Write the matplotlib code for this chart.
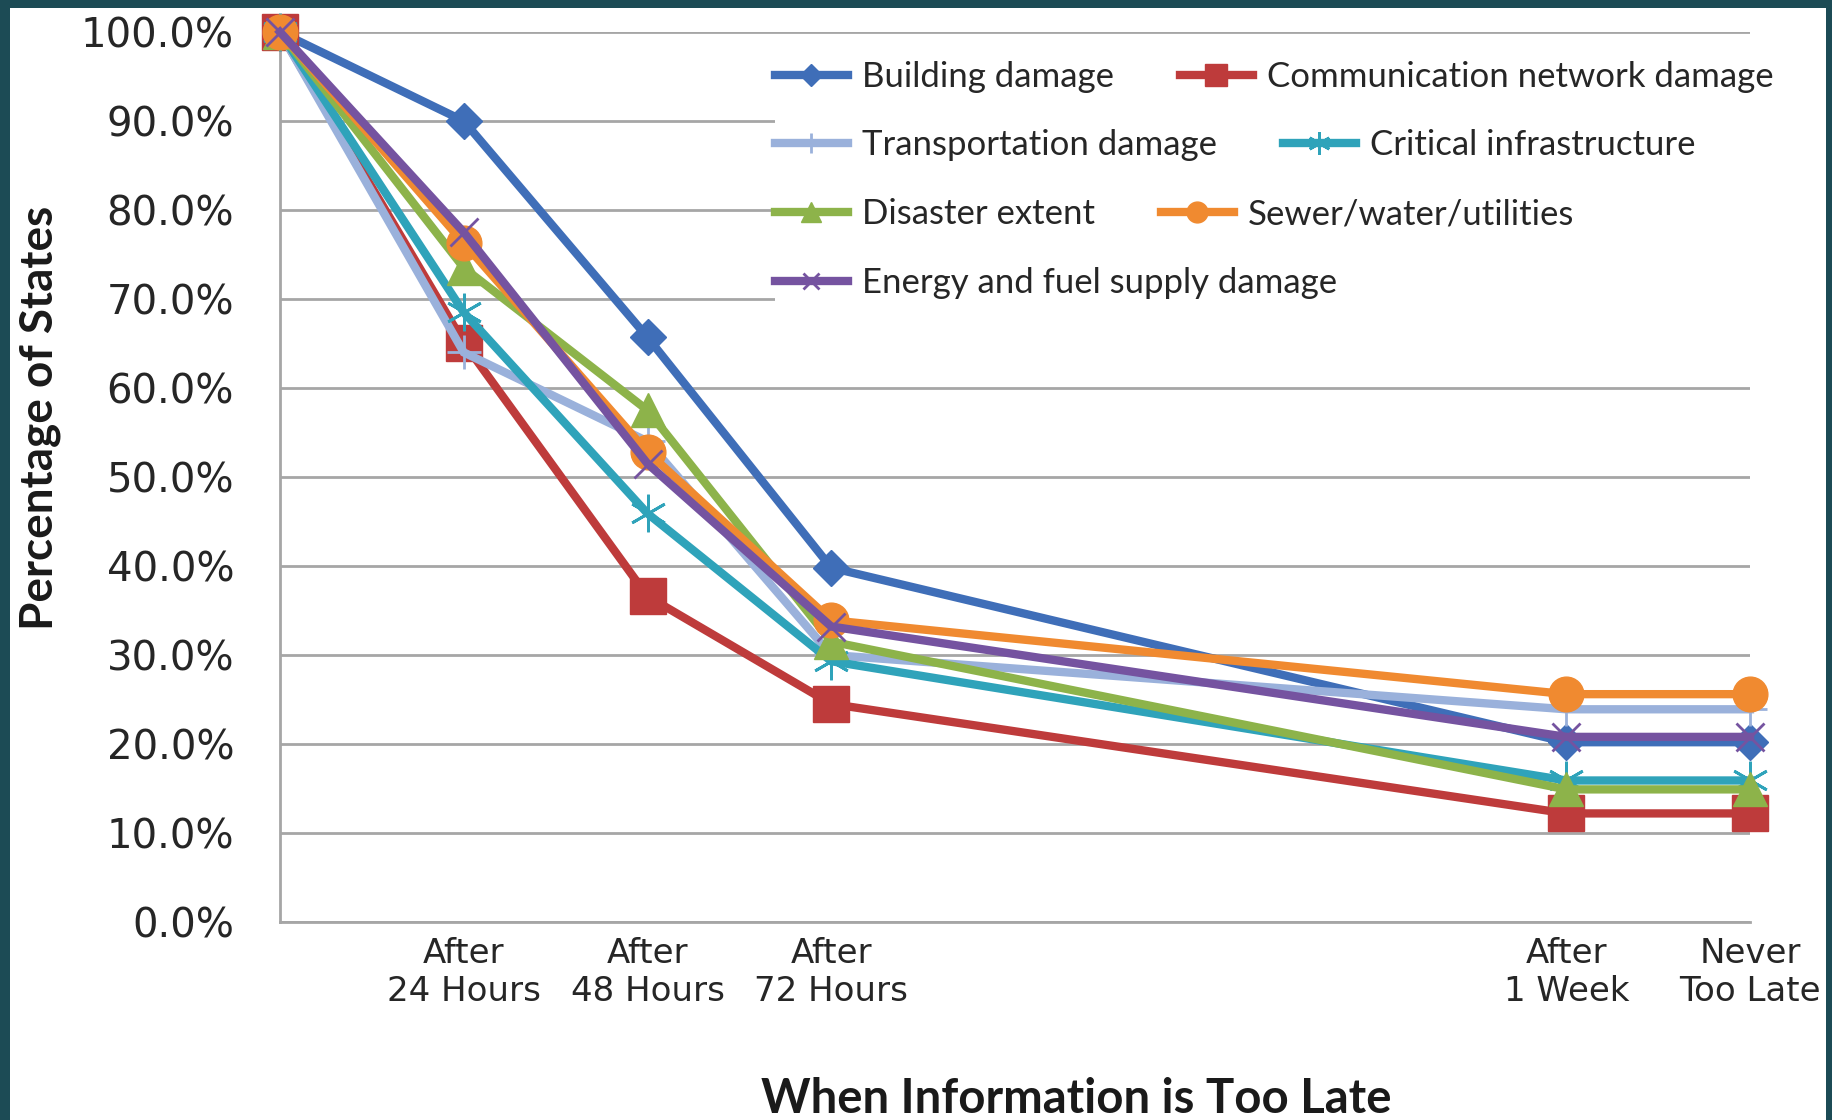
import matplotlib
matplotlib.use("Agg")
import matplotlib.pyplot as plt
from matplotlib.patches import Rectangle
import numpy as np

# categories on the x axis (blank ones are empty slots in the original sheet)
categories = ['', 'After\n24 Hours', 'After\n48 Hours', 'After\n72 Hours', '', '', '',
              'After\n1 Week', 'Never\nToo Late']

# percent of states, None = no value for that category
building = [100, 90.0, 65.7, 39.8, None, None, None, 20.2, 20.2]
communication = [100, 65.1, 36.6, 24.5, None, None, None, 12.2, 12.2]
transportation = [100, 64.0, 54.0, 30.0, None, None, None, 23.9, 23.9]
critical = [100, 68.5, 45.9, 29.3, None, None, None, 15.9, 15.9]
disaster = [100, 73.5, 57.5, 31.5, None, None, None, 14.9, 14.9]
sewer = [100, 76.3, 52.8, 33.9, None, None, None, 25.6, 25.6]
energy = [100, 77.5, 51.5, 33.2, None, None, None, 20.8, 20.8]

series_names = ['Building damage', 'Communication network damage', 'Transportation damage',
                'Critical infrastructure', 'Disaster extent', 'Sewer/water/utilities',
                'Energy and fuel supply damage']
series_values = [building, communication, transportation, critical, disaster, sewer, energy]

y_ticks = [0, 10, 20, 30, 40, 50, 60, 70, 80, 90, 100]

# styles: color, marker, markersize, marker edge width
styles = [
    ('#3F6EB8', 'D', 18, 1),
    ('#BE3B3B', 's', 26, 1),
    ('#9AB1DB', '+', 24, 2),
    ('#2FA3BA', (6, 2, 0), 27, 2),
    ('#8DB34A', '^', 24, 1),
    ('#F08A30', 'o', 25, 1),
    ('#7553A0', 'x', 20, 2),
]

W, H = 1832, 1120
fig = plt.figure(figsize=(W / 100, H / 100), dpi=100, facecolor='#1C4B55')
fig.patches.append(Rectangle((10 / W, 0), (1826 - 10) / W, 1 - 8 / H,
                             transform=fig.transFigure, facecolor='white',
                             edgecolor='none', zorder=-10))

ax = fig.add_axes([280 / W, 1 - 922 / H, (1750 - 280) / W, (922 - 32) / H])

x = np.arange(len(categories))
handles = []
for i, (name, vals) in enumerate(zip(series_names, series_values)):
    y = np.array([np.nan if v is None else v for v in vals], dtype=float)
    ok = ~np.isnan(y)
    color, marker, ms, mew = styles[i]
    line, = ax.plot(x[ok], y[ok], color=color, lw=6, marker=marker, markersize=ms,
                    markerfacecolor=color, markeredgecolor=color, markeredgewidth=mew,
                    label=name, clip_on=False, zorder=3 + i, solid_joinstyle='miter')
    handles.append(line)

ax.set_xlim(0, len(categories) - 1)
ax.set_ylim(0, 100)
ax.set_yticks(y_ticks)
ax.set_yticklabels(['%.1f%%' % v for v in y_ticks], fontsize=29, color='#262626',
                   family='DejaVu Sans')
ax.set_xticks(x)
ax.set_xticklabels(categories, fontsize=24.5, color='#262626', family='DejaVu Sans')
ax.tick_params(axis='y', length=0, pad=33)
ax.tick_params(axis='x', length=0, pad=11)
ax.grid(axis='y', color='#A6A6A6', lw=2)
ax.set_axisbelow(True)
for s in ['top', 'right']:
    ax.spines[s].set_visible(False)
for s in ['left', 'bottom']:
    ax.spines[s].set_color('#A6A6A6')
    ax.spines[s].set_linewidth(2)

# white block behind the legend hides the gridlines there
fig.patches.append(Rectangle((775 / W, 1 - 318 / H), (1826 - 775) / W, (318 - 42) / H,
                             transform=fig.transFigure, facecolor='white',
                             edgecolor='none', zorder=1))

# legend laid out row by row like the Excel one
rows = [[0, 1], [2, 3], [4, 5], [6]]
row_y = [77, 145, 214, 283]
for r, yy in zip(rows, row_y):
    leg = fig.legend([handles[k] for k in r], [series_names[k] for k in r],
                     loc='center left', bbox_to_anchor=(775 / W, 1 - yy / H),
                     ncol=len(r), frameon=False, borderpad=0, borderaxespad=0,
                     handlelength=2.1, handletextpad=0.4, columnspacing=1.9,
                     markerscale=0.6, prop={'family': 'Lato', 'size': 25})
    for t in leg.get_texts():
        t.set_color('#262626')

fig.text(40 / W, 1 - 418 / H, 'Percentage of States', rotation=90, ha='center',
         va='center', fontsize=33, fontweight='bold', family='Lato', color='#1A1A1A')
fig.text(1076 / W, 1 - 1099 / H, 'When Information is Too Late', ha='center',
         va='center', fontsize=34, fontweight='bold', family='Lato', color='#1A1A1A')

fig.savefig('out.png', dpi=100, facecolor=fig.get_facecolor())
